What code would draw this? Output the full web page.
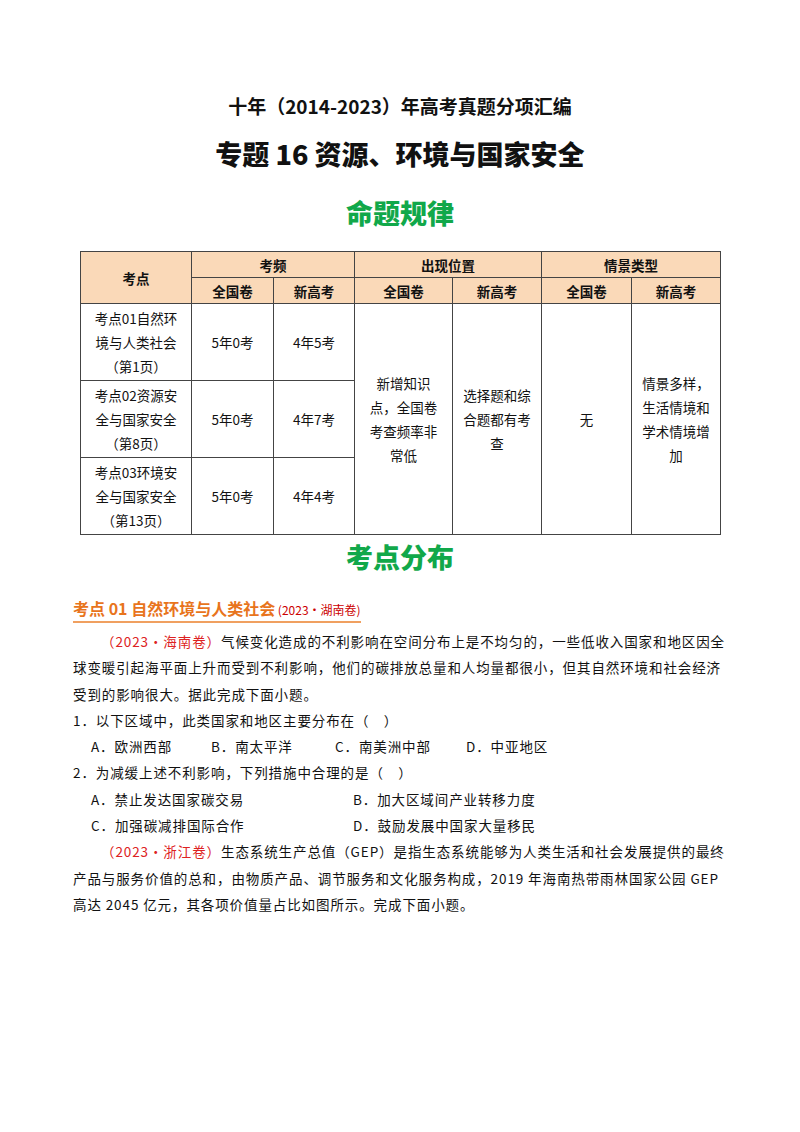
<!DOCTYPE html><html><head><meta charset="utf-8">
<script src="https://cdn.jsdelivr.net/npm/chart.js@4"></script>
<style>
body{margin:0;width:800px;height:1132px;background:#fff;font-family:"Noto Sans CJK SC",serif;color:#111;position:relative}
.a{position:absolute;white-space:nowrap}
table{position:absolute;left:80px;top:251px;width:641px;height:284px;border-collapse:collapse;font-size:13.5px}
td{border:1.3px solid #444;text-align:center;vertical-align:middle;line-height:24px;padding:0}
.h{background:#fad9b8;font-weight:bold;height:26px}
.p{font-size:13.5px;line-height:26.3px;letter-spacing:0.9px}
.r{display:flex}
</style></head><body>
<div class="a" style="left:0;width:800px;text-align:center;top:92px;font-size:19px;font-weight:bold">十年（2014-2023）年高考真题分项汇编</div>
<div class="a" style="left:0;width:800px;text-align:center;top:134px;font-size:27px;font-weight:900">专题 16 资源、环境与国家安全</div>
<div class="a" style="left:0;width:800px;text-align:center;top:193px;font-size:27px;font-weight:900;color:#11a84a">命题规律</div>
<table id="t"></table>
<div class="a" style="left:0;width:800px;text-align:center;top:537px;font-size:27px;font-weight:900;color:#11a84a">考点分布</div>
<div class="a" style="left:73px;top:597px;font-size:16px;font-weight:bold;color:#e8741c;border-bottom:2px solid #f0a060;line-height:22px">考点 01 自然环境与人类社会<span style="font-size:12px;font-weight:normal;color:#c00"> (2023·湖南卷)</span></div>
<div class="a p" style="left:73px;top:628px;width:656px;white-space:normal">
<div style="text-indent:28px"><span style="color:#d22">（2023·海南卷）</span>气候变化造成的不利影响在空间分布上是不均匀的，一些低收入国家和地区因全球变暖引起海平面上升而受到不利影响，他们的碳排放总量和人均量都很小，但其自然环境和社会经济受到的影响很大。据此完成下面小题。</div>
<div>1．以下区域中，此类国家和地区主要分布在（　）</div>
<div class="r" style="padding-left:18px"><span style="width:120px">A．欧洲西部</span><span style="width:124px">B．南太平洋</span><span style="width:131px">C．南美洲中部</span><span>D．中亚地区</span></div>
<div>2．为减缓上述不利影响，下列措施中合理的是（　）</div>
<div class="r" style="padding-left:18px"><span style="width:262px">A．禁止发达国家碳交易</span><span>B．加大区域间产业转移力度</span></div>
<div class="r" style="padding-left:18px"><span style="width:262px">C．加强碳减排国际合作</span><span>D．鼓励发展中国家大量移民</span></div>
<div style="text-indent:28px"><span style="color:#d22">（2023·浙江卷）</span>生态系统生产总值（GEP）是指生态系统能够为人类生活和社会发展提供的最终产品与服务价值的总和，由物质产品、调节服务和文化服务构成，2019 年海南热带雨林国家公园 GEP 高达 2045 亿元，其各项价值量占比如图所示。完成下面小题。</div>
</div>
<script>
const topics=["考点01自然环<br>境与人类社会<br>（第1页）","考点02资源安<br>全与国家安全<br>（第8页）","考点03环境安<br>全与国家安全<br>（第13页）"];
const national=["5年0考","5年0考","5年0考"];
const newExam=["4年5考","4年7考","4年4考"];
let h='<tr class="h"><td rowspan="2" style="width:110px">考点</td><td colspan="2">考频</td><td colspan="2">出现位置</td><td colspan="2">情景类型</td></tr>';
h+='<tr class="h"><td style="width:81px">全国卷</td><td style="width:80px">新高考</td><td style="width:97px">全国卷</td><td style="width:88px">新高考</td><td style="width:89px">全国卷</td><td>新高考</td></tr>';
for(let i=0;i<3;i++){h+='<tr><td>'+topics[i]+'</td><td>'+national[i]+'</td><td>'+newExam[i]+'</td>';
if(i==0)h+='<td rowspan="3">新增知识<br>点，全国卷<br>考查频率非<br>常低</td><td rowspan="3">选择题和综<br>合题都有考<br>查</td><td rowspan="3">无</td><td rowspan="3">情景多样，<br>生活情境和<br>学术情境增<br>加</td>';
h+='</tr>';}
document.getElementById('t').innerHTML=h;
</script>
</body></html>
